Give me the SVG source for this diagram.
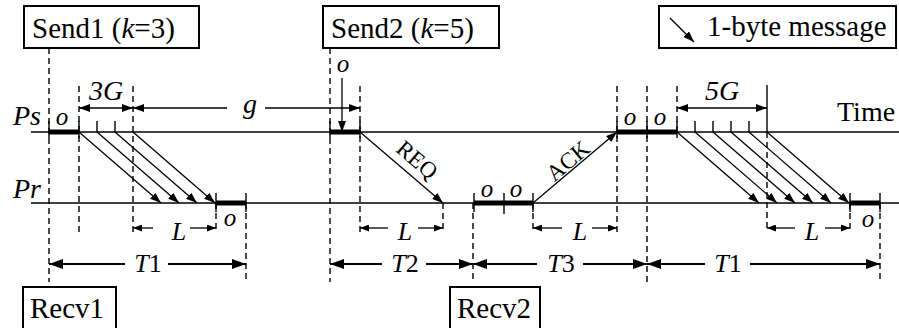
<svg xmlns="http://www.w3.org/2000/svg" width="899" height="328" viewBox="0 0 899 328">
<style>
  text { font-family: 'Liberation Serif', Tinos, 'Times New Roman', 'DejaVu Serif', serif; fill: #000; }
  .box { fill: #fff; stroke: #000; stroke-width: 2; }
  .bt { font-size: 29px; }
  .lbl { font-size: 28px; font-style: italic; }
  .o { font-size: 25px; font-style: italic; text-anchor: middle; }
  .tl { font-size: 26px; text-anchor: middle; }
  .it { font-style: italic; }
  .rot { font-size: 23px; text-anchor: middle; }
  .axis { stroke: #000; stroke-width: 1.4; fill: none; }
  .heavy { stroke: #000; stroke-width: 5; }
  .tick { stroke: #000; stroke-width: 1.4; }
  .dash { stroke: #000; stroke-width: 1.4; stroke-dasharray: 6 4; fill: none; }
  .msg { stroke: #000; stroke-width: 1.3; fill: none; marker-end: url(#ah); }
  .dim { stroke: #000; stroke-width: 1.3; fill: none; }
  .tarr { stroke: #000; stroke-width: 2.2; fill: none; }
</style>
<defs>
  <marker id="ah" markerUnits="userSpaceOnUse" markerWidth="11" markerHeight="8" refX="11" refY="4" orient="auto-start-reverse">
    <path d="M0,0 L11,4 L0,8 z" fill="#000"/>
  </marker>
  <marker id="th" markerUnits="userSpaceOnUse" markerWidth="14" markerHeight="10" refX="14" refY="5" orient="auto-start-reverse">
    <path d="M0,0 L14,5 L0,10 z" fill="#000"/>
  </marker>
  <marker id="sh" markerUnits="userSpaceOnUse" markerWidth="9" markerHeight="7" refX="9" refY="3.5" orient="auto-start-reverse">
    <path d="M0,0 L9,3.5 L0,7 z" fill="#000"/>
  </marker>
</defs>

<!-- time lines -->
<g id="axes">
  <line class="axis" x1="31" y1="132" x2="899" y2="132"/>
  <line class="axis" x1="31" y1="203" x2="899" y2="203"/>
  <text class="lbl" x="13" y="125">Ps</text>
  <text class="lbl" x="13" y="198">Pr</text>
  <text class="lbl" x="837" y="121" style="font-style:normal">Time</text>
</g>

<!-- dashed guide lines -->
<g id="guides">
  <line class="dash" x1="49" y1="48" x2="49" y2="282"/>
  <line class="dash" x1="79" y1="86" x2="79" y2="232"/>
  <line class="dash" x1="133" y1="86" x2="133" y2="232"/>
  <line class="dash" x1="216" y1="203" x2="216" y2="232"/>
  <line class="dash" x1="246" y1="203" x2="246" y2="282"/>
  <line class="dash" x1="330" y1="48" x2="330" y2="282"/>
  <line class="dash" x1="360" y1="86" x2="360" y2="232"/>
  <line class="dash" x1="443" y1="203" x2="443" y2="232"/>
  <line class="dash" x1="473" y1="203" x2="473" y2="282"/>
  <line class="dash" x1="533" y1="203" x2="533" y2="232"/>
  <line class="dash" x1="617" y1="86" x2="617" y2="232"/>
  <line class="dash" x1="647" y1="86" x2="647" y2="282"/>
  <line class="dash" x1="677" y1="86" x2="677" y2="132"/>
  <line class="dash" x1="767" y1="132" x2="767" y2="232"/>
  <line class="dash" x1="850" y1="203" x2="850" y2="232"/>
  <line class="dash" x1="880" y1="203" x2="880" y2="282"/>
</g>

<!-- busy segments and ticks -->
<g id="segments">
  <line class="heavy" x1="49" y1="132" x2="79" y2="132"/>
  <line class="heavy" x1="330" y1="132" x2="360" y2="132"/>
  <line class="heavy" x1="617" y1="132" x2="677" y2="132"/>
  <line class="heavy" x1="216" y1="203" x2="246" y2="203"/>
  <line class="heavy" x1="474" y1="203" x2="533" y2="203"/>
  <line class="heavy" x1="850" y1="203" x2="880" y2="203"/>
  <g class="tick">
    <line x1="49" y1="121" x2="49" y2="138"/>
    <line x1="79" y1="121" x2="79" y2="138"/>
    <line x1="97" y1="121" x2="97" y2="132"/>
    <line x1="115" y1="121" x2="115" y2="132"/>
    <line x1="330" y1="121" x2="330" y2="138"/>
    <line x1="360" y1="121" x2="360" y2="138"/>
    <line x1="617" y1="121" x2="617" y2="138"/>
    <line x1="647" y1="121" x2="647" y2="138"/>
    <line x1="677" y1="121" x2="677" y2="138"/>
    <line x1="695" y1="121" x2="695" y2="132"/>
    <line x1="713" y1="121" x2="713" y2="132"/>
    <line x1="731" y1="121" x2="731" y2="132"/>
    <line x1="749" y1="121" x2="749" y2="132"/>
    <line x1="767" y1="85" x2="767" y2="132"/>
    <line x1="216" y1="193" x2="216" y2="212"/>
    <line x1="246" y1="193" x2="246" y2="212"/>
    <line x1="474" y1="193" x2="474" y2="212"/>
    <line x1="504" y1="193" x2="504" y2="214"/>
    <line x1="533" y1="193" x2="533" y2="212"/>
    <line x1="850" y1="193" x2="850" y2="212"/>
    <line x1="880" y1="193" x2="880" y2="212"/>
  </g>
  <text class="o" x="62" y="125">o</text>
  <text class="o" x="343" y="72">o</text>
  <text class="o" x="230" y="226">o</text>
  <text class="o" x="487" y="197">o</text>
  <text class="o" x="516" y="197">o</text>
  <text class="o" x="630" y="125">o</text>
  <text class="o" x="660" y="125">o</text>
  <text class="o" x="868" y="227">o</text>
</g>

<!-- connectors -->
<g id="connectors">
  <line class="msg" x1="79" y1="132" x2="161" y2="203"/>
  <line class="msg" x1="97" y1="132" x2="179" y2="203"/>
  <line class="msg" x1="115" y1="132" x2="197" y2="203"/>
  <line class="msg" x1="133" y1="132" x2="215" y2="203"/>
  <line class="msg" x1="360" y1="132" x2="443" y2="203"/>
  <line class="msg" x1="533" y1="203" x2="617" y2="132"/>
  <line class="msg" x1="677" y1="132" x2="759" y2="203"/>
  <line class="msg" x1="695" y1="132" x2="777" y2="203"/>
  <line class="msg" x1="713" y1="132" x2="795" y2="203"/>
  <line class="msg" x1="731" y1="132" x2="813" y2="203"/>
  <line class="msg" x1="749" y1="132" x2="831" y2="203"/>
  <line class="msg" x1="767" y1="132" x2="849" y2="203"/>
  <line class="msg" x1="342" y1="78" x2="342" y2="132"/>
  <text class="rot" x="0" y="7.5" transform="translate(417,160) rotate(40.5)">REQ</text>
  <text class="rot" x="0" y="7.5" transform="translate(568,161) rotate(-40.2)">ACK</text>
</g>

<!-- dimension arrows -->
<g id="dimensions">
  <line class="dim" x1="79" y1="108" x2="133" y2="108" marker-start="url(#ah)" marker-end="url(#ah)"/>
  <text class="lbl" x="106" y="100" text-anchor="middle">3G</text>
  <line class="dim" x1="133" y1="108" x2="227" y2="108" marker-start="url(#ah)"/>
  <line class="dim" x1="265" y1="108" x2="360" y2="108" marker-end="url(#ah)"/>
  <text class="lbl" x="250" y="113" text-anchor="middle">g</text>
  <line class="dim" x1="677" y1="108" x2="767" y2="108" marker-start="url(#ah)" marker-end="url(#ah)"/>
  <text class="lbl" x="722" y="100" text-anchor="middle">5G</text>

  <line class="dim" x1="133" y1="228" x2="153" y2="228" marker-start="url(#sh)"/>
  <line class="dim" x1="190" y1="228" x2="216" y2="228" marker-end="url(#sh)"/>
  <text class="tl it" x="179" y="240">L</text>
  <line class="dim" x1="360" y1="228" x2="388" y2="228" marker-start="url(#sh)"/>
  <line class="dim" x1="418" y1="228" x2="443" y2="228" marker-end="url(#sh)"/>
  <text class="tl it" x="405" y="240">L</text>
  <line class="dim" x1="533" y1="228" x2="562" y2="228" marker-start="url(#sh)"/>
  <line class="dim" x1="592" y1="228" x2="617" y2="228" marker-end="url(#sh)"/>
  <text class="tl it" x="580" y="240">L</text>
  <line class="dim" x1="767" y1="228" x2="795" y2="228" marker-start="url(#sh)"/>
  <line class="dim" x1="825" y1="228" x2="850" y2="228" marker-end="url(#sh)"/>
  <text class="tl it" x="812" y="240">L</text>

  <line class="tarr" x1="49" y1="264" x2="125" y2="264" marker-start="url(#th)"/>
  <line class="tarr" x1="168" y1="264" x2="246" y2="264" marker-end="url(#th)"/>
  <text class="tl" x="148" y="272"><tspan class="it">T</tspan>1</text>
  <line class="tarr" x1="330" y1="264" x2="382" y2="264" marker-start="url(#th)"/>
  <line class="tarr" x1="426" y1="264" x2="473" y2="264" marker-end="url(#th)"/>
  <text class="tl" x="405" y="272"><tspan class="it">T</tspan>2</text>
  <line class="tarr" x1="473" y1="264" x2="537" y2="264" marker-start="url(#th)"/>
  <line class="tarr" x1="583" y1="264" x2="647" y2="264" marker-end="url(#th)"/>
  <text class="tl" x="561" y="272"><tspan class="it">T</tspan>3</text>
  <line class="tarr" x1="647" y1="264" x2="705" y2="264" marker-start="url(#th)"/>
  <line class="tarr" x1="750" y1="264" x2="880" y2="264" marker-end="url(#th)"/>
  <text class="tl" x="728" y="272"><tspan class="it">T</tspan>1</text>
</g>

<!-- labelled boxes -->
<g id="send1">
  <rect class="box" x="24" y="6" width="175" height="42"/>
  <text class="bt" x="32" y="38">Send1 (<tspan class="it">k</tspan>=3)</text>
</g>
<g id="send2">
  <rect class="box" x="323" y="6" width="176" height="42"/>
  <text class="bt" x="331" y="38">Send2 (<tspan class="it">k</tspan>=5)</text>
</g>
<g id="legend">
  <rect class="box" x="659" y="6" width="237" height="42"/>
  <line class="dim" x1="670" y1="18" x2="694" y2="42" marker-end="url(#ah)"/>
  <text class="bt" x="707" y="36">1-byte message</text>
</g>
<g id="recv1">
  <rect class="box" x="23" y="287" width="93" height="46"/>
  <text class="bt" x="30" y="318">Recv1</text>
</g>
<g id="recv2">
  <rect class="box" x="450" y="287" width="90" height="46"/>
  <text class="bt" x="457" y="318">Recv2</text>
</g>
</svg>
